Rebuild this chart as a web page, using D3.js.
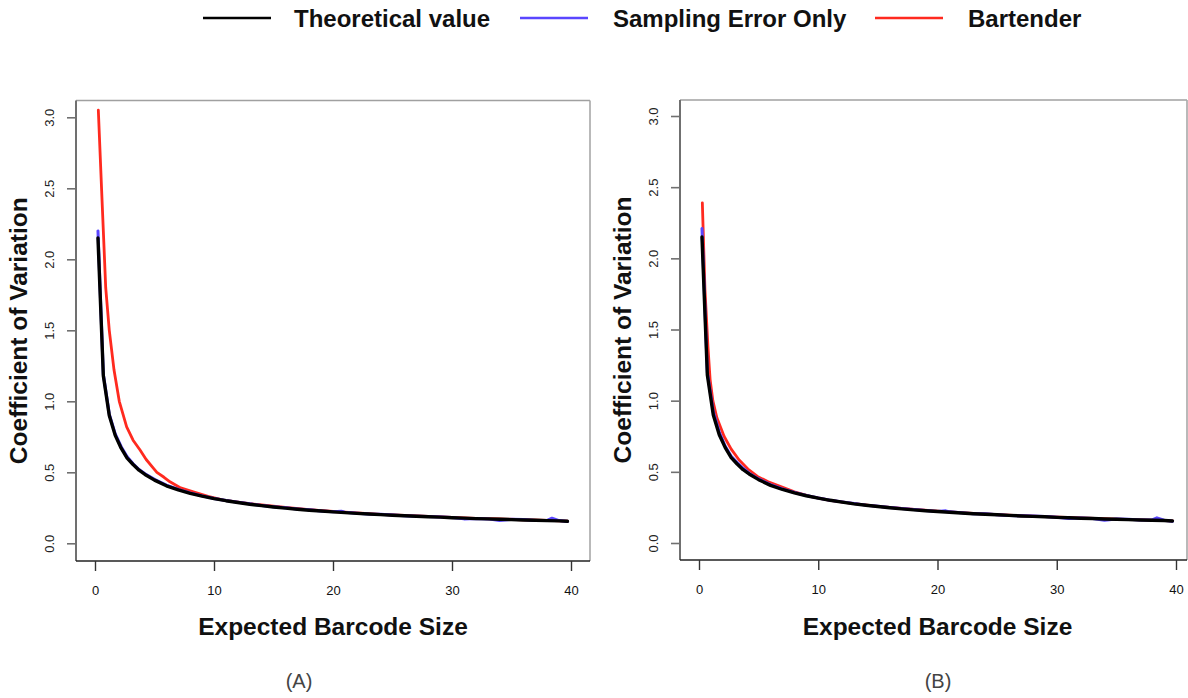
<!DOCTYPE html>
<html>
<head>
<meta charset="utf-8">
<script src="https://cdn.jsdelivr.net/npm/d3@7"></script>
<style>
  html, body { margin: 0; padding: 0; background: #fff; }
  svg { display: block; }
  text { font-family: "Liberation Sans", Arial, Helvetica, sans-serif; }
</style>
</head>
<body>
<svg id="chart" width="1188" height="698"></svg>
<script>
// ---------------- data ----------------
const seriesNames = ["Theoretical value", "Sampling Error Only", "Bartender"];
const seriesColors = ["#000000", "#5a46ff", "#ff2a1f"];
const xTicks = [0, 10, 20, 30, 40];
const yTicks = [0, 0.5, 1.0, 1.5, 2.0, 2.5, 3.0];
const panelLabels = ["(A)", "(B)"];

// Theoretical value (same in both panels)
const theoX = [0.25, 0.7, 1.2, 1.7, 2.2, 2.7, 3.2, 3.7, 4.2, 5, 6, 7, 8, 9, 10, 11, 12, 13, 14, 15, 16, 17, 18, 19, 20,
  21, 22, 23, 24, 25, 26, 27, 28, 29, 30, 31, 32, 33, 34, 35, 36, 37, 38, 39, 39.7];
const theoY = [2.15, 1.18, 0.90, 0.76, 0.67, 0.60, 0.555, 0.515, 0.485, 0.445, 0.405, 0.376, 0.352, 0.332, 0.315,
  0.300, 0.287, 0.275, 0.265, 0.256, 0.248, 0.240, 0.233, 0.227, 0.221, 0.216, 0.211, 0.206, 0.202, 0.198,
  0.194, 0.190, 0.187, 0.184, 0.180, 0.177, 0.174, 0.172, 0.169, 0.167, 0.164, 0.162, 0.160, 0.158, 0.155];

// Sampling Error Only, panel A
const sampAX = [0.25, 0.7, 1.2, 1.7, 2.2, 2.7, 3.2, 3.7, 4.2, 5, 6, 7, 8, 9, 10, 11, 12, 13, 14, 15, 16, 17, 18, 19, 20,
  20.7, 21, 22, 23, 24, 25, 26, 27, 28, 29, 30, 31, 32, 33, 34, 35, 36, 37, 38, 38.4, 39, 39.7];
const sampAY = [2.20, 1.19, 0.91, 0.77, 0.68, 0.61, 0.56, 0.52, 0.49, 0.45, 0.41, 0.38, 0.355, 0.334, 0.316,
  0.301, 0.289, 0.278, 0.266, 0.258, 0.250, 0.242, 0.236, 0.228, 0.222, 0.226, 0.219, 0.212, 0.206, 0.205, 0.199,
  0.194, 0.191, 0.189, 0.186, 0.181, 0.172, 0.175, 0.172, 0.160, 0.169, 0.167, 0.161, 0.162, 0.177, 0.160, 0.153];

// Sampling Error Only, panel B
const sampBX = [0.25, 0.7, 1.2, 1.7, 2.2, 2.7, 3.2, 3.7, 4.2, 5, 6, 7, 8, 9, 10, 11, 12, 13, 14, 15, 16, 17, 18, 19, 20,
  20.7, 21, 22, 23, 24, 25, 26, 27, 28, 29, 30, 31, 32, 33, 34, 35, 36, 37, 38, 38.4, 39, 39.7];
const sampBY = [2.21, 1.20, 0.92, 0.78, 0.68, 0.61, 0.565, 0.525, 0.49, 0.45, 0.41, 0.38, 0.355, 0.334, 0.316,
  0.301, 0.289, 0.278, 0.266, 0.258, 0.250, 0.242, 0.236, 0.228, 0.222, 0.226, 0.219, 0.212, 0.206, 0.205, 0.199,
  0.194, 0.191, 0.189, 0.186, 0.181, 0.172, 0.175, 0.172, 0.160, 0.169, 0.167, 0.161, 0.162, 0.177, 0.160, 0.153];

// Bartender, panel A
const bartAX = [0.28, 0.56, 0.9, 1.2, 1.6, 2.04, 2.66, 3.2, 3.8, 4.3, 4.9, 5.2, 5.8, 6.3, 7.2, 8.26, 9.5, 10.8,
  12, 14, 16, 18, 20, 22, 24, 26, 28, 30, 32, 34, 36, 38, 39.7];
const bartAY = [3.05, 2.48, 1.80, 1.50, 1.22, 1.00, 0.82, 0.726, 0.655, 0.59, 0.53, 0.50, 0.465, 0.433, 0.39,
  0.362, 0.33, 0.304, 0.29, 0.27, 0.253, 0.237, 0.224, 0.214, 0.204, 0.196, 0.189, 0.182, 0.176, 0.171,
  0.166, 0.161, 0.156];

// Bartender, panel B
const bartBX = [0.28, 0.5, 0.75, 0.93, 1.16, 1.5, 2.1, 2.7, 3.35, 4.1, 4.9, 5.8, 6.8, 8, 9.3, 11, 13, 15, 17,
  20, 23, 26, 29, 32, 35, 38, 39.7];
const bartBY = [2.39, 1.78, 1.38, 1.15, 1.0, 0.88, 0.75, 0.66, 0.585, 0.52, 0.468, 0.43, 0.398, 0.36, 0.328,
  0.30, 0.277, 0.258, 0.243, 0.224, 0.208, 0.195, 0.185, 0.176, 0.168, 0.161, 0.156];

// ---------------- drawing ----------------
const svg = d3.select("#chart");

function zip(xs, ys) { return xs.map((x, i) => ({ x: x, y: ys[i] })); }

const panels = [
  { box: [76, 100.5, 590, 561], xr: [95, 571], yr: [543.3, 117.3], ylabX: 27, label: panelLabels[0], labX: 299,
    series: [zip(bartAX, bartAY), zip(sampAX, sampAY), zip(theoX, theoY)] },
  { box: [680, 100, 1187, 560], xr: [699, 1176], yr: [543, 116], ylabX: 631, label: panelLabels[1], labX: 938,
    series: [zip(bartBX, bartBY), zip(sampBX, sampBY), zip(theoX, theoY)] }
];

panels.forEach(p => {
  const g = svg.append("g");
  const x = d3.scaleLinear().domain([0, 40]).range(p.xr);
  const y = d3.scaleLinear().domain([0, 3]).range(p.yr);
  const [l, t, r, b] = p.box;

  // curves: Bartender (red) first, then sampling (blue), then theoretical (black) on top
  const order = [2, 1, 0];
  const widths = { 0: 3.4, 1: 3.0, 2: 2.8 };
  p.series.forEach((data, i) => {
    const si = order[i];
    g.append("path")
      .datum(data)
      .attr("fill", "none")
      .attr("stroke", seriesColors[si])
      .attr("stroke-width", widths[si])
      .attr("stroke-linejoin", "round")
      .attr("stroke-linecap", "round")
      .attr("d", d3.line().x(d => x(d.x)).y(d => y(d.y)));
  });

  // box
  g.append("line").attr("x1", l).attr("x2", r).attr("y1", t).attr("y2", t).attr("stroke", "#a0a0a0").attr("stroke-width", 1.6);
  g.append("line").attr("x1", r).attr("x2", r).attr("y1", t).attr("y2", b).attr("stroke", "#a8a8a8").attr("stroke-width", 1.6);
  g.append("line").attr("x1", l).attr("x2", l).attr("y1", t).attr("y2", b).attr("stroke", "#707070").attr("stroke-width", 2);
  g.append("line").attr("x1", l).attr("x2", r).attr("y1", b).attr("y2", b).attr("stroke", "#222").attr("stroke-width", 1.6);

  // x axis
  const xa = g.append("g").attr("transform", `translate(0,${b})`)
    .call(d3.axisBottom(x).tickValues(xTicks).tickSize(10).tickFormat(d3.format("d")));
  xa.select(".domain").remove();
  xa.selectAll(".tick line").attr("stroke", "#333").attr("stroke-width", 1.4);
  xa.selectAll(".tick text")
    .attr("y", 34).attr("dy", 0)
    .attr("font-size", 13).attr("fill", "#111")
    .style("font-family", "'Liberation Sans', Arial, sans-serif");

  // y axis
  const ya = g.append("g").attr("transform", `translate(${l},0)`)
    .call(d3.axisLeft(y).tickValues(yTicks).tickSize(9).tickFormat(d3.format(".1f")));
  ya.select(".domain").remove();
  ya.selectAll(".tick line").attr("stroke", "#707070").attr("stroke-width", 1.6);
  ya.selectAll(".tick text")
    .attr("x", 0).attr("dy", 0)
    .attr("transform", "translate(-22,0) rotate(-90)")
    .attr("text-anchor", "middle")
    .attr("font-size", 13).attr("fill", "#222")
    .style("font-family", "'Liberation Sans', Arial, sans-serif");

  // axis titles
  g.append("text")
    .attr("x", (p.xr[0] + p.xr[1]) / 2).attr("y", 635)
    .attr("text-anchor", "middle")
    .attr("font-size", 24.5).attr("font-weight", "bold").attr("fill", "#111")
    .text("Expected Barcode Size");
  g.append("text")
    .attr("transform", `translate(${p.ylabX},${(t + b) / 2}) rotate(-90)`)
    .attr("text-anchor", "middle")
    .attr("font-size", 24.5).attr("font-weight", "bold").attr("fill", "#111")
    .text("Coefficient of Variation");

  // panel label
  g.append("text")
    .attr("x", p.labX).attr("y", 688)
    .attr("text-anchor", "middle")
    .attr("font-size", 20).attr("fill", "#444")
    .text(p.label);
});

// legend
const legendItems = [
  { name: seriesNames[0], color: seriesColors[0], x1: 203, x2: 271, tx: 294 },
  { name: seriesNames[1], color: seriesColors[1], x1: 520, x2: 588, tx: 613 },
  { name: seriesNames[2], color: seriesColors[2], x1: 875, x2: 943, tx: 968 }
];
const lg = svg.append("g");
legendItems.forEach(it => {
  lg.append("line").attr("x1", it.x1).attr("x2", it.x2).attr("y1", 18).attr("y2", 18)
    .attr("stroke", it.color).attr("stroke-width", 2.6);
  lg.append("text").attr("x", it.tx).attr("y", 26.5)
    .attr("font-size", 24).attr("font-weight", "bold").attr("fill", "#111")
    .text(it.name);
});
</script>
</body>
</html>
